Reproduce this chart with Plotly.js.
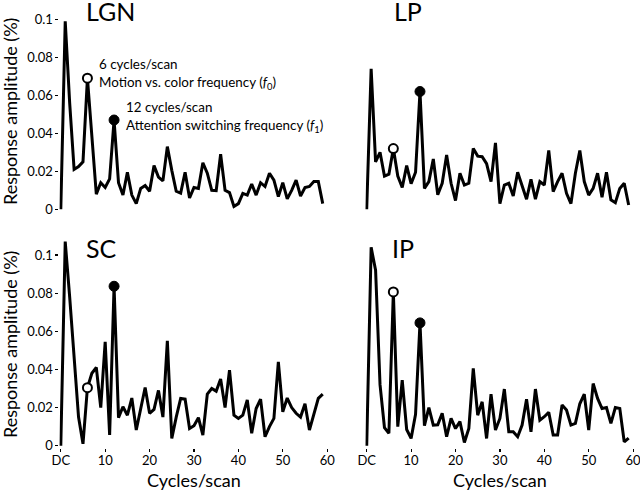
<!DOCTYPE html>
<html>
<head>
<meta charset="utf-8">
<script src="https://cdn.plot.ly/plotly-3.0.1.min.js"></script>
<style>html,body{margin:0;padding:0;background:#fff;}#chart{width:640px;height:493px;}</style>
</head>
<body>
<div id="chart"></div>
<script>
// Cycles/scan (0 = DC)
const cycles = [0,1,2,3,4,5,6,7,8,9,10,11,12,13,14,15,16,17,18,19,20,21,22,23,24,25,26,27,28,29,
                30,31,32,33,34,35,36,37,38,39,40,41,42,43,44,45,46,47,48,49,50,51,52,53,54,55,56,57,58,59];
const xTickVals = [0,10,20,30,40,50,60];
const xTickText = ["DC","10","20","30","40","50","60"];
const yTickVals = [0,0.02,0.04,0.06,0.08,0.1];
const yTickText = ["0","0.02","0.04","0.06","0.08","0.1"];

const panelNames = ["LGN","LP","SC","IP"];
const motionFreq = 6;     // f0
const attentionFreq = 12; // f1

const LGN = [0,0.099,0.056,0.021,0.0225,0.025,0.069,0.037,0.008,0.014,
             0.0115,0.016,0.047,0.014,0.0075,0.0195,0.0075,0.003,0.011,0.0125,
             0.0095,0.023,0.017,0.015,0.033,0.0205,0.0095,0.0085,0.0195,0.006,
             0.0115,0.011,0.0245,0.019,0.010,0.0098,0.029,0.010,0.0088,0.0015,
             0.003,0.0084,0.0075,0.0133,0.0075,0.014,0.012,0.019,0.0154,0.0067,
             0.014,0.0055,0.010,0.0154,0.007,0.0114,0.012,0.0146,0.0146,0.003];
const LP  = [0,0.074,0.025,0.030,0.0175,0.0185,0.032,0.0175,0.0115,0.023,
             0.0135,0.0195,0.062,0.011,0.0146,0.0265,0.0077,0.0137,0.0286,0.0137,
             0.0046,0.019,0.0128,0.0137,0.032,0.028,0.0277,0.024,0.0146,0.035,
             0.003,0.0128,0.0137,0.007,0.0195,0.0128,0.0053,0.0158,0.0053,0.0146,
             0.0128,0.031,0.0093,0.0146,0.019,0.0084,0.003,0.019,0.031,0.0146,
             0.0075,0.011,0.019,0.0063,0.0195,0.005,0.0035,0.011,0.0137,0.0023];
const SC  = [0,0.107,0.078,0.048,0.015,0.001,0.0304,0.038,0.041,0.020,
             0.0545,0.0056,0.0836,0.0147,0.0204,0.016,0.025,0.0082,0.0185,0.0305,
             0.017,0.019,0.029,0.015,0.055,0.0038,0.015,0.0248,0.0244,0.009,
             0.0105,0.0147,0.0056,0.027,0.030,0.0286,0.035,0.020,0.0396,0.016,
             0.0143,0.016,0.024,0.0065,0.0195,0.0244,0.0047,0.010,0.0143,0.044,
             0.0178,0.025,0.020,0.017,0.015,0.022,0.0082,0.016,0.0248,0.027];
const IP  = [0,0.104,0.092,0.032,0.0095,0.0065,0.0806,0.010,0.0344,0.0085,
             0.0038,0.0165,0.0644,0.0105,0.020,0.0108,0.011,0.017,0.0047,0.0143,
             0.009,0.0126,0.0017,0.009,0.0405,0.016,0.023,0.0038,0.027,0.0082,
             0.0143,0.0297,0.0073,0.0073,0.0047,0.0108,0.0244,0.0073,0.0297,0.0134,
             0.0152,0.0175,0.0056,0.0056,0.0213,0.0187,0.0108,0.0117,0.022,0.027,
             0.0082,0.0326,0.0248,0.0195,0.020,0.0117,0.020,0.0195,0.002,0.004];

const seriesList = [LGN, LP, SC, IP];
const axisIds = [["x","y"],["x2","y2"],["x3","y3"],["x4","y4"]];

const FONT = "Lato, 'Liberation Sans', sans-serif";
const traces = [];
seriesList.forEach((s, k) => {
  const [xa, ya] = axisIds[k];
  traces.push({x: cycles, y: s, xaxis: xa, yaxis: ya, type: "scatter", mode: "lines",
    line: {color: "#000", width: 3}, hoverinfo: "skip", showlegend: false});
  traces.push({x: [cycles[motionFreq]], y: [s[motionFreq]], xaxis: xa, yaxis: ya, type: "scatter", mode: "markers",
    marker: {symbol: "circle", size: 9, color: "#fff", line: {color: "#000", width: 2}}, showlegend: false, cliponaxis: false});
  traces.push({x: [cycles[attentionFreq]], y: [s[attentionFreq]], xaxis: xa, yaxis: ya, type: "scatter", mode: "markers",
    marker: {symbol: "circle", size: 10, color: "#000", line: {color: "#000", width: 1}}, showlegend: false, cliponaxis: false});
});

const leftDom = [0.0929, 0.5147];
const rightDom = [0.5709, 0.9927];
const topDom = [0.5677, 0.9801];
const botDom = [0.0913, 0.5292];
const xRange = [-0.3, 60.5];
const topRange = [-0.002, 0.105];
const botRange = [-0.0012, 0.112];

function hiddenX(dom, anchor){
  return {domain: dom, anchor: anchor, range: xRange, showticklabels: false, ticks: "", showgrid: false, zeroline: false, showline: false};
}
function shownX(dom, anchor){
  return {domain: dom, anchor: anchor, range: xRange, tickvals: xTickVals, ticktext: xTickText,
    ticks: "outside", ticklen: 3, tickwidth: 1.2, tickcolor: "#000", showgrid: false, zeroline: false, showline: false,
    ticklabeloverflow: "allow", ticklabelstandoff: -3,
    tickfont: {family: FONT, size: 13, color: "#000"}};
}
function shownY(dom, anchor, rng){
  return {domain: dom, anchor: anchor, range: rng, tickvals: yTickVals, ticktext: yTickText,
    ticks: "outside", ticklen: 3, tickwidth: 1.2, tickcolor: "#000", showgrid: false, zeroline: false, showline: false,
    ticklabeloverflow: "allow",
    tickfont: {family: FONT, size: 13, color: "#000"}};
}
function hiddenY(dom, anchor, rng){
  return {domain: dom, anchor: anchor, range: rng, showticklabels: false, ticks: "", showgrid: false, zeroline: false, showline: false};
}

const titleFont = {family: FONT, size: 25, color: "#000"};
const axTitleFont = {family: FONT, size: 18, color: "#000"};
const noteFont = {family: FONT, size: 13.4, color: "#000"};

const annotations = [
  {text: panelNames[0], xref: "paper", yref: "paper", x: 110/640, y: 1 - 11/493, xanchor: "center", yanchor: "middle", showarrow: false, font: titleFont},
  {text: panelNames[1], xref: "paper", yref: "paper", x: 408/640, y: 1 - 11/493, xanchor: "center", yanchor: "middle", showarrow: false, font: titleFont},
  {text: panelNames[2], xref: "paper", yref: "paper", x: 101/640, y: 1 - 248.3/493, xanchor: "center", yanchor: "middle", showarrow: false, font: titleFont},
  {text: panelNames[3], xref: "paper", yref: "paper", x: 403/640, y: 1 - 248.3/493, xanchor: "center", yanchor: "middle", showarrow: false, font: titleFont},
  {text: "Response amplitude (%)", xref: "paper", yref: "paper", x: 10/640, y: 1 - 112/493, textangle: -90, xanchor: "center", yanchor: "middle", showarrow: false, font: axTitleFont},
  {text: "Response amplitude (%)", xref: "paper", yref: "paper", x: 10/640, y: 1 - 345/493, textangle: -90, xanchor: "center", yanchor: "middle", showarrow: false, font: axTitleFont},
  {text: "Cycles/scan", xref: "paper", yref: "paper", x: 193.5/640, y: 1 - 480/493, xanchor: "center", yanchor: "middle", showarrow: false, font: axTitleFont},
  {text: "Cycles/scan", xref: "paper", yref: "paper", x: 499.5/640, y: 1 - 480/493, xanchor: "center", yanchor: "middle", showarrow: false, font: axTitleFont},
  {text: motionFreq + " cycles/scan", xref: "x", yref: "y", x: 8.1, y: 0.0767, xanchor: "left", yanchor: "middle", showarrow: false, font: noteFont},
  {text: "Motion vs. color frequency (<i>f</i><sub>0</sub>)", xref: "x", yref: "y", x: 8.1, y: 0.0667, xanchor: "left", yanchor: "middle", showarrow: false, font: noteFont},
  {text: attentionFreq + " cycles/scan", xref: "x", yref: "y", x: 14.2, y: 0.0538, xanchor: "left", yanchor: "middle", showarrow: false, font: noteFont},
  {text: "Attention switching frequency (<i>f</i><sub>1</sub>)", xref: "x", yref: "y", x: 14.2, y: 0.0441, xanchor: "left", yanchor: "middle", showarrow: false, font: noteFont}
];

const layout = {
  width: 640, height: 493,
  margin: {l: 0, r: 0, t: 0, b: 0},
  paper_bgcolor: "#fff", plot_bgcolor: "#fff",
  showlegend: false,
  font: {family: FONT, color: "#000"},
  xaxis: hiddenX(leftDom, "y"),
  yaxis: shownY(topDom, "x", topRange),
  xaxis2: hiddenX(rightDom, "y2"),
  yaxis2: hiddenY(topDom, "x2", topRange),
  xaxis3: shownX(leftDom, "y3"),
  yaxis3: shownY(botDom, "x3", botRange),
  xaxis4: shownX(rightDom, "y4"),
  yaxis4: hiddenY(botDom, "x4", botRange),
  annotations: annotations
};

Plotly.newPlot("chart", traces, layout, {displayModeBar: false, staticPlot: true});
</script>
</body>
</html>
